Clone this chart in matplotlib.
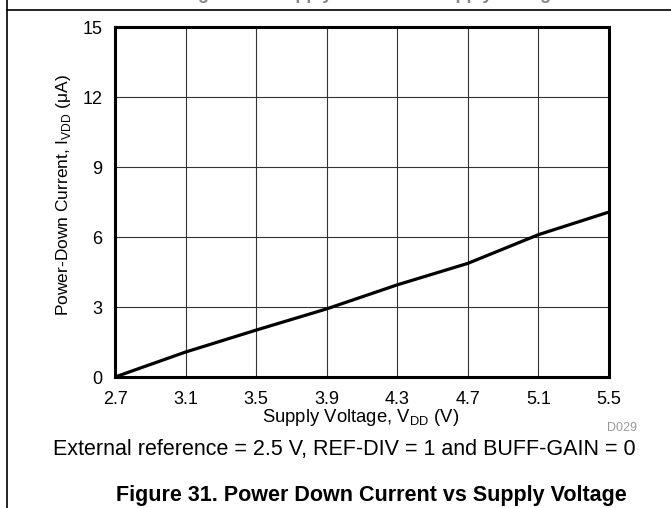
import matplotlib
matplotlib.use("Agg")
import matplotlib.pyplot as plt
from matplotlib.lines import Line2D

plt.rcParams["font.family"] = ["Liberation Sans", "DejaVu Sans"]

# supply voltage (V) vs power-down current (uA)
vdd = [2.7, 3.1, 3.5, 3.9, 4.3, 4.7, 5.1, 5.5]
i_pd = [0.0, 1.07, 2.01, 2.92, 3.95, 4.87, 6.1, 7.07]

x_ticks = [2.7, 3.1, 3.5, 3.9, 4.3, 4.7, 5.1, 5.5]
y_ticks = [0, 3, 6, 9, 12, 15]

W, H = 671, 508
fig = plt.figure(figsize=(W / 100, H / 100), dpi=100)

# axes box placed in pixels: left 115, right 609, top 27, bottom 377
ax = fig.add_axes([115 / W, (H - 377) / H, (609 - 115) / W, (377 - 27) / H])
ax.plot(vdd, i_pd, color="black", linewidth=2.3, solid_capstyle="butt", zorder=3)

ax.set_xlim(2.7, 5.5)
ax.set_ylim(0, 15)
ax.set_xticks(x_ticks)
ax.set_xticklabels([f"{v:.1f}" for v in x_ticks])
ax.set_yticks(y_ticks)
ax.tick_params(length=0, labelsize=13)
ax.tick_params(axis="x", pad=10)
ax.tick_params(axis="y", pad=9)
ax.grid(True, color="#333333", linewidth=0.8)
for s in ax.spines.values():
    s.set_linewidth(2.2)
    s.set_zorder(4)

ax.set_xlabel(r"Supply Voltage, V$_{\mathregular{DD}}$ (V)", fontsize=13.3)
ax.xaxis.set_label_coords(0.498, -0.117)
ax.xaxis.label.set_va("center")
ax.set_ylabel(r"Power-Down Current, I$_{\mathregular{VDD}}$ ($\mathregular{\mu}$A)",
              fontsize=12.5)
ax.yaxis.set_label_coords(-0.105, 0.52)
ax.yaxis.label.set_va("center")

fig.text(622 / W, 1 - 428 / H, "D029", fontsize=9, color="#999999",
         ha="center", va="center")
fig.text(344 / W, 1 - 450 / H,
         "External reference = 2.5 V, REF-DIV = 1 and BUFF-GAIN = 0",
         fontsize=15.5, ha="center", va="center")
fig.text(371 / W, 1 - 495 / H,
         "Figure 31. Power Down Current vs Supply Voltage",
         fontsize=15.5, fontweight="bold", ha="center", va="center")

# previous figure caption, cut off at the top edge
fig.text(372 / W, 1 - (-1) / H, "Figure 30. Supply Current vs Supply Voltage",
         fontsize=13, fontweight="bold", ha="center", va="baseline", color="#888888")

# page frame lines
fig.add_artist(Line2D([7 / W, 1], [1 - 10 / H, 1 - 10 / H], color="black", linewidth=1.2))
fig.add_artist(Line2D([7 / W, 7 / W], [0, 1], color="black", linewidth=1.2))

fig.savefig("out.png", dpi=100)
